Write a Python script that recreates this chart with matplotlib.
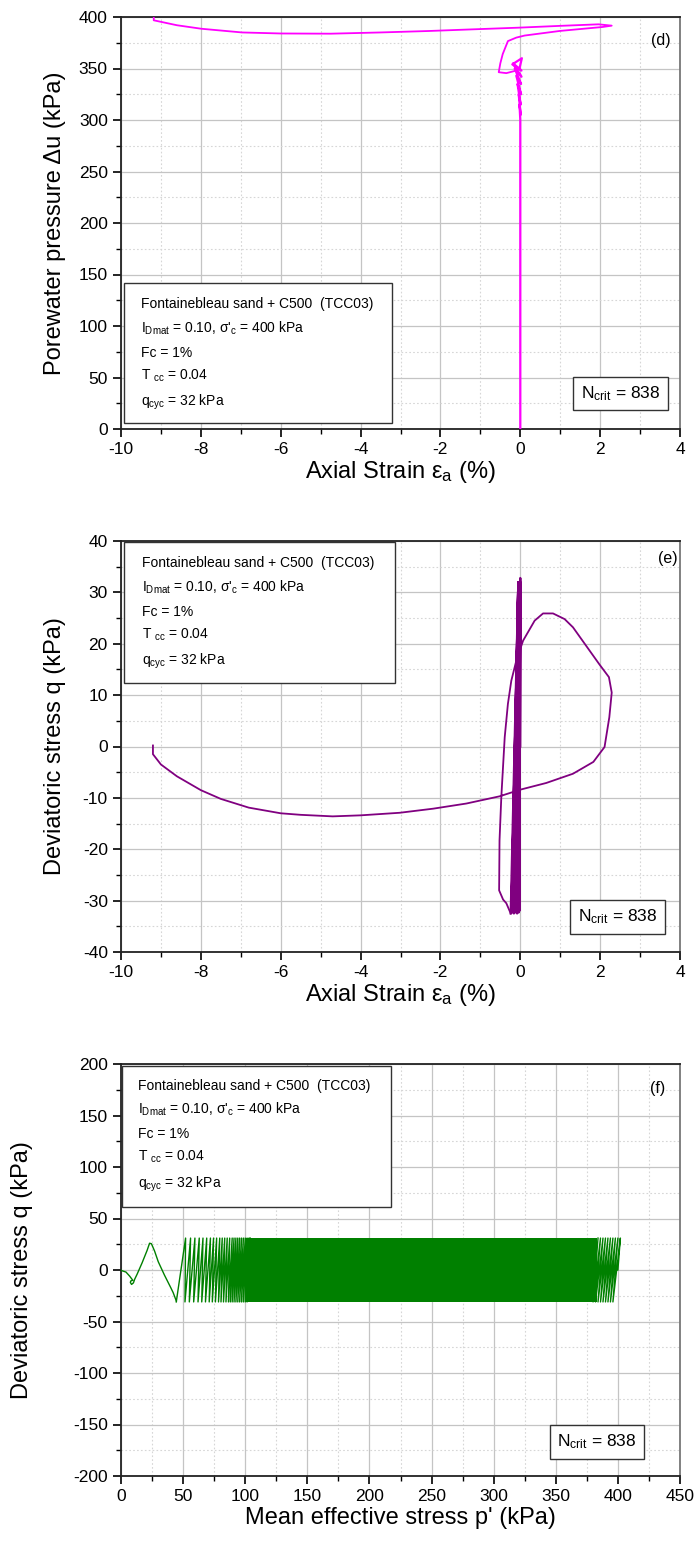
import matplotlib
matplotlib.use("Agg")
import matplotlib.pyplot as plt
from matplotlib.ticker import MultipleLocator
from matplotlib.patches import Rectangle

plt.rcParams.update({
    "font.family": ["Liberation Sans", "DejaVu Sans"],
    "mathtext.fontset": "custom",
    "mathtext.rm": "Liberation Sans",
    "mathtext.it": "Liberation Sans:italic",
    "mathtext.sf": "Liberation Sans",
    "axes.unicode_minus": False,
})

# ---------------- data ----------------
# (d) pore pressure vs axial strain
d_cyc_eps = [0.0, 0.0, -0.02, 0.01, -0.04, 0.01, -0.07, 0.02, -0.10, 0.02, -0.14, 0.03, -0.18, 0.03, -0.2, 0.04, -0.02]
d_cyc_u = [0, 300, 315, 305, 325, 315, 335, 325, 343, 335, 350, 342, 355, 348, 354, 360, 350]
d_fail_eps = [-0.02, -0.15, -0.35, -0.54, -0.5, -0.44, -0.31, -0.1, 0.11, 1.0, 2.06, 2.29,
              1.96, 1.0, -0.07, -1.2, -2.3, -3.5, -4.75, -6.0, -6.97, -7.99, -8.6, -9.18, -9.18]
d_fail_u = [350, 347.5, 345.5, 346.4, 355, 364, 376.6, 380, 382, 386.5, 390.3, 391.6,
            392.9, 391.4, 389.6, 388, 386.4, 385, 383.8, 384, 385, 388.6, 392, 396.8, 399.4]

# (e) deviatoric stress vs axial strain
e_cyc_eps = [0.0, 0.0, -0.02, 0.0, -0.04, -0.01, -0.06, -0.01, -0.08, -0.02, -0.10, -0.02, -0.12,
             -0.03, -0.14, -0.03, -0.16, -0.04, -0.18, -0.04, -0.20, -0.05, -0.22, -0.05, -0.24]
e_cyc_q = [0, 32.8, -32, 32, -32.3, 32, -32, 32, -32.5, 32, -32, 32, -32.3,
           32, -32, 32, -32.5, 32, -32, 32, -32.3, 32, -32, 32, -32.5]
e_fail_eps = [-0.24, -0.35, -0.43, -0.53, -0.52, -0.475, -0.39, -0.31, -0.225, -0.1, 0.07, 0.36,
              0.57, 0.82, 1.11, 1.32, 1.98, 2.22, 2.29, 2.23, 2.11, 1.83, 1.32, 0.65, 0.0, -0.52,
              -1.35, -2.18, -3.02, -4.0, -4.7, -5.5, -6.0, -6.8, -7.5, -8.0, -8.6, -9.0, -9.2, -9.2]
e_fail_q = [-32.5, -30.5, -29.8, -28, -18.3, -9.8, 1.8, 8.3, 12.8, 16.7, 20.6, 24.5,
            25.9, 25.9, 24.8, 23.2, 16, 13.5, 10.5, 5.7, -0.1, -3, -5.3, -7.1, -8.4, -9.7,
            -11.1, -12.1, -12.9, -13.4, -13.6, -13.3, -13.0, -11.9, -10.2, -8.5, -5.8, -3.5, -1.5, 0.2]

# (f) deviatoric stress vs mean effective stress
f_start_p = [400, 402, 396, 400, 394, 398, 392, 396, 390, 394, 388, 392, 386, 390, 384, 388,
             382, 386, 380, 384]
f_start_q = [0, 31, -31, 31, -31, 31, -31, 31, -31, 31, -31, 31, -31, 31, -31, 31,
             -31, 31, -31, 31]
f_band_p = [100, 383]
f_band_lo = [-31, -31]
f_band_hi = [31.5, 31.5]
f_end_p = [104, 101.5, 103, 100, 101.5, 98.5, 100, 97, 98.5, 95.5, 97, 94, 95.5, 92.5, 94, 91,
           92.5, 89.5, 91, 88, 89.5, 86.5, 87.5, 84.5, 85.5, 82.5, 83.5, 80.5, 81.5, 78.5,
           79.5, 76, 77, 73.5, 74.5, 71, 72, 68, 69, 65, 66, 62, 63, 58.5, 59.5, 55, 56,
           51.5, 52, 44.5]
f_end_q = [31, -31] * 25
f_fail_p = [44.5, 42, 40, 35, 30, 27, 24.5, 23, 21, 17, 13, 11, 10, 8.5, 7.5, 8, 9.5, 7, 4, 0.5, 0]
f_fail_q = [-30, -22, -17, -5, 8, 18.5, 25.5, 26, 19, 7, -4, -9, -12.5, -14, -12, -10.5, -10, -6, -2, -0.6, 0]

info_lines = [
    "Fontainebleau sand + C500  (TCC03)",
    r"I$_{\rm Dmat}$ = 0.10, σ'$_{\rm c}$ = 400 kPa",
    "Fc = 1%",
    r"T $_{\rm cc}$ = 0.04",
    r"q$_{\rm cyc}$ = 32 kPa",
]
ncrit_text = r"N$_{\rm crit}$ = 838"

# ---------------- layout ----------------
W, H = 694, 1547
fig = plt.figure(figsize=(W / 100, H / 100), dpi=100)

boxes = {
    "d": (121, 17, 680, 429),
    "e": (121, 541, 680, 952),
    "f": (121, 1064, 680, 1476),
}


def add_ax(b):
    x0, y0, x1, y1 = b
    return fig.add_axes([x0 / W, 1 - y1 / H, (x1 - x0) / W, (y1 - y0) / H])


def fr(b, px, py):
    x0, y0, x1, y1 = b
    return (px - x0) / (x1 - x0), (y1 - py) / (y1 - y0)


def style(ax, xlim, ylim, xmaj, xmin, ymaj, ymin):
    ax.set_xlim(xlim)
    ax.set_ylim(ylim)
    ax.xaxis.set_major_locator(MultipleLocator(xmaj))
    ax.xaxis.set_minor_locator(MultipleLocator(xmin))
    ax.yaxis.set_major_locator(MultipleLocator(ymaj))
    ax.yaxis.set_minor_locator(MultipleLocator(ymin))
    ax.grid(which="major", color="#c4c4c4", lw=0.9, ls="-")
    ax.grid(which="minor", color="#d6d6d6", lw=0.8, ls=(0, (1.5, 2)))
    ax.set_axisbelow(True)
    ax.tick_params(which="both", direction="out", top=False, right=False, labelsize=12.5, colors="black")
    ax.tick_params(which="major", length=6, width=1.2)
    ax.tick_params(which="minor", length=3.5, width=1.0)
    for side, s in ax.spines.items():
        s.set_linewidth(1.3)
        s.set_color("#222222" if side in ("left", "bottom", "top") else "#777777")


def info_box(ax, b, top, left, tx, offs, height, right):
    x0f, y1f = fr(b, left, top)
    x1f, y0f = fr(b, right, top + height)
    ax.add_patch(Rectangle((x0f, y0f), x1f - x0f, y1f - y0f, transform=ax.transAxes,
                           fc="white", ec="#333333", lw=1.0, zorder=5))
    for line, o in zip(info_lines, offs):
        xf, yf = fr(b, tx, top + o)
        ax.text(xf, yf, line, transform=ax.transAxes, fontsize=10, va="center", ha="left", zorder=6)


def ncrit_box(ax, b, x0, y0, x1, y1):
    a, bb = fr(b, x0, y1)
    c, d = fr(b, x1, y0)
    ax.add_patch(Rectangle((a, bb), c - a, d - bb, transform=ax.transAxes,
                           fc="white", ec="#333333", lw=1.0, zorder=5))
    ax.text((a + c) / 2, (bb + d) / 2, ncrit_text, transform=ax.transAxes, fontsize=12.5,
            ha="center", va="center", zorder=6)


def set_labels(ax, b, xl, yl, xl_y, yl_x):
    ax.set_xlabel(xl, fontsize=17)
    ax.set_ylabel(yl, fontsize=17)
    x0, y0, x1, y1 = b
    ax.xaxis.set_label_coords(0.5, (y1 - xl_y) / (y1 - y0))
    ax.xaxis.label.set_verticalalignment("center")
    ax.yaxis.set_label_coords((yl_x - x0) / (x1 - x0), 0.5)
    ax.yaxis.label.set_verticalalignment("center")


offs = [21, 45, 70, 93, 119]

# ---------------- (d) ----------------
b = boxes["d"]
ax1 = add_ax(b)
style(ax1, (-10, 4), (0, 400), 2, 1, 50, 25)
ax1.plot(d_cyc_eps, d_cyc_u, color="#ff00ff", lw=1.6, zorder=3)
ax1.plot(d_fail_eps, d_fail_u, color="#ff00ff", lw=1.3, zorder=3)
info_box(ax1, b, 283, 123.5, 141, offs, 140, 392)
ncrit_box(ax1, b, 573, 376.5, 668, 410)
xf, yf = fr(b, 661, 41)
ax1.text(xf, yf, "(d)", transform=ax1.transAxes, fontsize=11.5, ha="center", va="center")
set_labels(ax1, b, r"Axial Strain ε$_{\rm a}$ (%)", "Porewater pressure Δu (kPa)", 472, 55)

# ---------------- (e) ----------------
b = boxes["e"]
ax2 = add_ax(b)
style(ax2, (-10, 4), (-40, 40), 2, 1, 10, 5)
ax2.plot(e_cyc_eps, e_cyc_q, color="#800080", lw=1.6, zorder=3)
ax2.plot(e_fail_eps, e_fail_q, color="#800080", lw=1.3, zorder=3)
info_box(ax2, b, 542, 124, 142, offs, 141, 395)
ncrit_box(ax2, b, 570, 900, 665, 933.5)
xf, yf = fr(b, 668, 558)
ax2.text(xf, yf, "(e)", transform=ax2.transAxes, fontsize=11.5, ha="center", va="center")
set_labels(ax2, b, r"Axial Strain ε$_{\rm a}$ (%)", "Deviatoric stress q (kPa)", 995, 55)

# ---------------- (f) ----------------
b = boxes["f"]
ax3 = add_ax(b)
style(ax3, (0, 450), (-200, 200), 50, 25, 50, 25)
ax3.plot(f_start_p, f_start_q, color="#008000", lw=1.0, zorder=3)
ax3.fill_between(f_band_p, f_band_lo, f_band_hi, color="#008000", lw=0, zorder=3)
ax3.plot(f_end_p, f_end_q, color="#008000", lw=1.0, zorder=3)
ax3.plot(f_fail_p, f_fail_q, color="#008000", lw=1.0, zorder=3)
info_box(ax3, b, 1066, 121.5, 138, [20, 43, 68, 91, 118], 141, 391)
ncrit_box(ax3, b, 550, 1424.5, 644, 1458.5)
xf, yf = fr(b, 658, 1088)
ax3.text(xf, yf, "(f)", transform=ax3.transAxes, fontsize=11.5, ha="center", va="center")
set_labels(ax3, b, "Mean effective stress p' (kPa)", "Deviatoric stress q (kPa)", 1518, 22)

fig.savefig("out.png", dpi=100, facecolor="white")
